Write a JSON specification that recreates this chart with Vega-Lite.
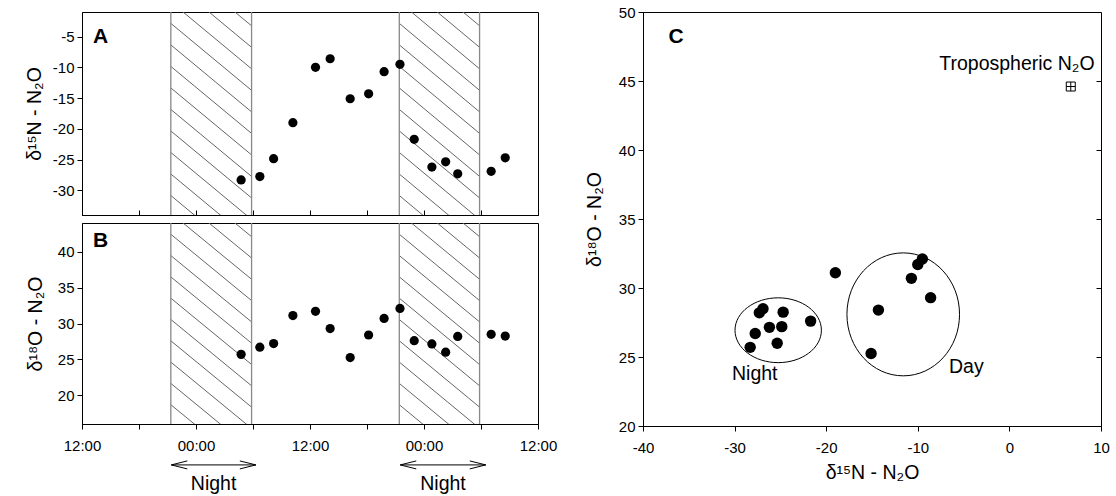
{
  "$schema": "https://vega.github.io/schema/vega-lite/v6.json",
  "background": "white",
  "padding": {"left": 23, "top": 4, "right": 2, "bottom": 0},
  "datasets": {
    "samples": [
      {"hour": 16.75, "d15N": -28.3, "d18O": 25.7},
      {"hour": 18.72, "d15N": -27.75, "d18O": 26.7},
      {"hour": 20.17, "d15N": -24.85, "d18O": 27.2},
      {"hour": 22.2, "d15N": -19.0, "d18O": 31.1},
      {"hour": 24.58, "d15N": -10.0, "d18O": 31.7},
      {"hour": 26.12, "d15N": -8.6, "d18O": 29.3},
      {"hour": 28.23, "d15N": -15.1, "d18O": 25.25},
      {"hour": 30.17, "d15N": -14.3, "d18O": 28.4},
      {"hour": 31.8, "d15N": -10.7, "d18O": 30.7},
      {"hour": 33.47, "d15N": -9.5, "d18O": 32.1},
      {"hour": 34.97, "d15N": -21.7, "d18O": 27.6},
      {"hour": 36.83, "d15N": -26.2, "d18O": 27.15},
      {"hour": 38.28, "d15N": -25.35, "d18O": 26.0},
      {"hour": 39.55, "d15N": -27.3, "d18O": 28.2},
      {"hour": 43.07, "d15N": -26.9, "d18O": 28.5},
      {"hour": 44.55, "d15N": -24.7, "d18O": 28.25}
    ],
    "nights": [
      {"start": 9.35, "end": 17.85, "a1": 9.4, "a2": 18.3, "mid": 13.85, "label": "Night"},
      {"start": 33.4, "end": 41.85, "a1": 33.5, "a2": 42.5, "mid": 38.0, "label": "Night"}
    ],
    "hatch": [
      {"s": 9.35, "e": 17.85, "f1": 1.262, "f2": 0.932},
      {"s": 9.35, "e": 17.85, "f1": 1.156, "f2": 0.826},
      {"s": 9.35, "e": 17.85, "f1": 1.05, "f2": 0.72},
      {"s": 9.35, "e": 17.85, "f1": 0.944, "f2": 0.614},
      {"s": 9.35, "e": 17.85, "f1": 0.838, "f2": 0.508},
      {"s": 9.35, "e": 17.85, "f1": 0.732, "f2": 0.402},
      {"s": 9.35, "e": 17.85, "f1": 0.626, "f2": 0.296},
      {"s": 9.35, "e": 17.85, "f1": 0.52, "f2": 0.19},
      {"s": 9.35, "e": 17.85, "f1": 0.414, "f2": 0.084},
      {"s": 9.35, "e": 17.85, "f1": 0.308, "f2": -0.022},
      {"s": 9.35, "e": 17.85, "f1": 0.202, "f2": -0.128},
      {"s": 9.35, "e": 17.85, "f1": 0.096, "f2": -0.234},
      {"s": 33.4, "e": 41.85, "f1": 1.262, "f2": 0.932},
      {"s": 33.4, "e": 41.85, "f1": 1.156, "f2": 0.826},
      {"s": 33.4, "e": 41.85, "f1": 1.05, "f2": 0.72},
      {"s": 33.4, "e": 41.85, "f1": 0.944, "f2": 0.614},
      {"s": 33.4, "e": 41.85, "f1": 0.838, "f2": 0.508},
      {"s": 33.4, "e": 41.85, "f1": 0.732, "f2": 0.402},
      {"s": 33.4, "e": 41.85, "f1": 0.626, "f2": 0.296},
      {"s": 33.4, "e": 41.85, "f1": 0.52, "f2": 0.19},
      {"s": 33.4, "e": 41.85, "f1": 0.414, "f2": 0.084},
      {"s": 33.4, "e": 41.85, "f1": 0.308, "f2": -0.022},
      {"s": 33.4, "e": 41.85, "f1": 0.202, "f2": -0.128},
      {"s": 33.4, "e": 41.85, "f1": 0.096, "f2": -0.234}
    ],
    "clusters": [
      {"cluster": "Night", "cx": -25.24, "cy": 26.94, "lx": -27.8, "ly": 23.8},
      {"cluster": "Day", "cx": -11.59, "cy": 28.09, "lx": -4.7, "ly": 24.3}
    ]
  },
  "spacing": 25,
  "hconcat": [
    {
      "spacing": 8,
      "bounds": "flush",
      "vconcat": [
        {
          "width": 456,
          "height": 203,
          "resolve": {"scale": {"y": "independent"}},
          "layer": [
            {
              "data": {"name": "hatch"},
              "mark": {"type": "rule", "clip": true, "color": "#666666", "strokeWidth": 1},
              "encoding": {
                "x": {"field": "s", "type": "quantitative", "scale": {"domain": [0, 48], "nice": false, "zero": false}, "axis": {"title": null, "values": [0, 3, 6, 9, 12, 15, 18, 21, 24, 27, 30, 33, 36, 39, 42, 45, 48], "labels": false, "tickSize": -5}},
                "x2": {"field": "e"},
                "y": {"field": "f1", "type": "quantitative", "scale": {"domain": [0, 1], "nice": false, "zero": false}, "axis": null},
                "y2": {"field": "f2"}
              }
            },
            {
              "data": {"name": "nights"},
              "mark": {"type": "rule", "color": "#888888", "strokeWidth": 1.3},
              "encoding": {"x": {"field": "start", "type": "quantitative", "scale": {"domain": [0, 48], "nice": false, "zero": false}}}
            },
            {
              "data": {"name": "nights"},
              "mark": {"type": "rule", "color": "#888888", "strokeWidth": 1.3},
              "encoding": {"x": {"field": "end", "type": "quantitative", "scale": {"domain": [0, 48], "nice": false, "zero": false}}}
            },
            {
              "data": {"name": "samples"},
              "mark": {"type": "circle", "size": 85, "color": "black", "opacity": 1},
              "encoding": {
                "x": {"field": "hour", "type": "quantitative", "scale": {"domain": [0, 48], "nice": false, "zero": false}},
                "y": {"field": "d15N", "type": "quantitative", "scale": {"domain": [-34, -1], "nice": false, "zero": false}, "axis": {"values": [-30, -25, -20, -15, -10, -5], "labelExpr": "'' + datum.value", "title": "δ¹⁵N - N₂O", "titlePadding": 8}}
              }
            },
            {
              "data": {"values": [{"label": "A", "hour": 1.95, "v": -5}]},
              "mark": {"type": "text", "fontSize": 21, "fontWeight": "bold", "align": "center", "baseline": "middle"},
              "encoding": {
                "x": {"field": "hour", "type": "quantitative", "scale": {"domain": [0, 48], "nice": false, "zero": false}},
                "y": {"field": "v", "type": "quantitative", "scale": {"domain": [-34, -1], "nice": false, "zero": false}, "axis": null},
                "text": {"field": "label"}
              }
            }
          ]
        },
        {
          "width": 456,
          "height": 201,
          "resolve": {"scale": {"y": "independent"}},
          "layer": [
            {
              "data": {"name": "hatch"},
              "mark": {"type": "rule", "clip": true, "color": "#666666", "strokeWidth": 1},
              "encoding": {
                "x": {"field": "s", "type": "quantitative", "scale": {"domain": [0, 48], "nice": false, "zero": false}, "axis": {"title": null, "values": [0, 3, 6, 9, 12, 15, 18, 21, 24, 27, 30, 33, 36, 39, 42, 45, 48], "labelExpr": "datum.value % 24 === 0 ? '12:00' : (datum.value % 12 === 0 ? '00:00' : '')", "labelPadding": 9, "tickSize": 5}},
                "x2": {"field": "e"},
                "y": {"field": "f1", "type": "quantitative", "scale": {"domain": [0, 1], "nice": false, "zero": false}, "axis": null},
                "y2": {"field": "f2"}
              }
            },
            {
              "data": {"name": "nights"},
              "mark": {"type": "rule", "color": "#888888", "strokeWidth": 1.3},
              "encoding": {"x": {"field": "start", "type": "quantitative", "scale": {"domain": [0, 48], "nice": false, "zero": false}}}
            },
            {
              "data": {"name": "nights"},
              "mark": {"type": "rule", "color": "#888888", "strokeWidth": 1.3},
              "encoding": {"x": {"field": "end", "type": "quantitative", "scale": {"domain": [0, 48], "nice": false, "zero": false}}}
            },
            {
              "data": {"name": "samples"},
              "mark": {"type": "circle", "size": 85, "color": "black", "opacity": 1},
              "encoding": {
                "x": {"field": "hour", "type": "quantitative", "scale": {"domain": [0, 48], "nice": false, "zero": false}},
                "y": {"field": "d18O", "type": "quantitative", "scale": {"domain": [16, 44], "nice": false, "zero": false}, "axis": {"values": [20, 25, 30, 35, 40], "title": "δ¹⁸O - N₂O", "titlePadding": 12}}
              }
            },
            {
              "data": {"name": "nights"},
              "mark": {"type": "rule", "color": "black", "strokeWidth": 1},
              "encoding": {
                "x": {"field": "a1", "type": "quantitative", "scale": {"domain": [0, 48], "nice": false, "zero": false}},
                "x2": {"field": "a2"},
                "y": {"datum": 10.3, "type": "quantitative", "scale": {"domain": [16, 44], "nice": false, "zero": false}, "axis": null}
              }
            },
            {
              "data": {"name": "nights"},
              "mark": {"type": "point", "shape": "M2,-0.5L0,0L2,0.5", "size": 256, "filled": false, "color": "black", "strokeWidth": 1, "opacity": 1},
              "encoding": {
                "x": {"field": "a1", "type": "quantitative", "scale": {"domain": [0, 48], "nice": false, "zero": false}},
                "y": {"datum": 10.3, "type": "quantitative", "scale": {"domain": [16, 44], "nice": false, "zero": false}, "axis": null}
              }
            },
            {
              "data": {"name": "nights"},
              "mark": {"type": "point", "shape": "M-2,-0.5L0,0L-2,0.5", "size": 256, "filled": false, "color": "black", "strokeWidth": 1, "opacity": 1},
              "encoding": {
                "x": {"field": "a2", "type": "quantitative", "scale": {"domain": [0, 48], "nice": false, "zero": false}},
                "y": {"datum": 10.3, "type": "quantitative", "scale": {"domain": [16, 44], "nice": false, "zero": false}, "axis": null}
              }
            },
            {
              "data": {"name": "nights"},
              "mark": {"type": "text", "fontSize": 19.5, "align": "center", "baseline": "middle"},
              "encoding": {
                "x": {"field": "mid", "type": "quantitative", "scale": {"domain": [0, 48], "nice": false, "zero": false}},
                "y": {"datum": 7.65, "type": "quantitative", "scale": {"domain": [16, 44], "nice": false, "zero": false}, "axis": null},
                "text": {"field": "label"}
              }
            },
            {
              "data": {"values": [{"label": "B", "hour": 1.95, "v": 41.5}]},
              "mark": {"type": "text", "fontSize": 21, "fontWeight": "bold", "align": "center", "baseline": "middle"},
              "encoding": {
                "x": {"field": "hour", "type": "quantitative", "scale": {"domain": [0, 48], "nice": false, "zero": false}},
                "y": {"field": "v", "type": "quantitative", "scale": {"domain": [16, 44], "nice": false, "zero": false}, "axis": null},
                "text": {"field": "label"}
              }
            }
          ]
        }
      ]
    },
    {
      "width": 458,
      "height": 414,
      "resolve": {"axis": {"y": "independent"}},
      "layer": [
        {
          "data": {"name": "clusters"},
          "transform": [{"filter": "datum.cluster === 'Night'"}],
          "mark": {"type": "point", "shape": "M1,0C1,0.414 0.552,0.75 0,0.75C-0.552,0.75 -1,0.414 -1,0C-1,-0.414 -0.552,-0.75 0,-0.75C0.552,-0.75 1,-0.414 1,0Z", "size": 7465, "filled": false, "color": "black", "strokeWidth": 1, "opacity": 1},
          "encoding": {
            "x": {"field": "cx", "type": "quantitative", "scale": {"domain": [-40, 10], "nice": false, "zero": false}},
            "y": {"field": "cy", "type": "quantitative", "scale": {"domain": [20, 50], "nice": false, "zero": false}, "axis": null}
          }
        },
        {
          "data": {"name": "clusters"},
          "transform": [{"filter": "datum.cluster === 'Day'"}],
          "mark": {"type": "point", "shape": "M1,0C1,0.603 0.552,1.092 0,1.092C-0.552,1.092 -1,0.603 -1,0C-1,-0.603 -0.552,-1.092 0,-1.092C0.552,-1.092 1,-0.603 1,0Z", "size": 12679, "filled": false, "color": "black", "strokeWidth": 1, "opacity": 1},
          "encoding": {
            "x": {"field": "cx", "type": "quantitative", "scale": {"domain": [-40, 10], "nice": false, "zero": false}},
            "y": {"field": "cy", "type": "quantitative", "scale": {"domain": [20, 50], "nice": false, "zero": false}, "axis": null}
          }
        },
        {
          "data": {"name": "samples"},
          "mark": {"type": "circle", "size": 130, "color": "black", "opacity": 1},
          "encoding": {
            "x": {"field": "d15N", "type": "quantitative", "scale": {"domain": [-40, 10], "nice": false, "zero": false}, "axis": {"values": [-40, -30, -20, -10, 0, 10], "labelExpr": "'' + datum.value", "title": "δ¹⁵N - N₂O", "labelPadding": 9, "titlePadding": 8}},
            "y": {"field": "d18O", "type": "quantitative", "scale": {"domain": [20, 50], "nice": false, "zero": false}, "axis": {"values": [20, 25, 30, 35, 40, 45, 50], "title": "δ¹⁸O - N₂O", "titlePadding": 14}}
          }
        },
        {
          "data": {"values": [{"name": "Tropospheric N₂O", "d15N": 6.7, "d18O": 44.6}]},
          "mark": {"type": "point", "shape": "M-1,-1L1,-1L1,1L-1,1ZM-1,0L1,0M0,-1L0,1", "size": 81, "filled": false, "color": "black", "strokeWidth": 1, "opacity": 1},
          "encoding": {
            "x": {"field": "d15N", "type": "quantitative", "scale": {"domain": [-40, 10], "nice": false, "zero": false}},
            "y": {"field": "d18O", "type": "quantitative", "scale": {"domain": [20, 50], "nice": false, "zero": false}, "axis": {"orient": "right", "values": [25, 30, 35, 40, 45], "labels": false, "title": null, "tickSize": -5, "domain": false}}
          }
        },
        {
          "data": {"name": "clusters"},
          "mark": {"type": "text", "fontSize": 19.5, "align": "center", "baseline": "middle"},
          "encoding": {
            "x": {"field": "lx", "type": "quantitative", "scale": {"domain": [-40, 10], "nice": false, "zero": false}},
            "y": {"field": "ly", "type": "quantitative", "scale": {"domain": [20, 50], "nice": false, "zero": false}, "axis": null},
            "text": {"field": "cluster"}
          }
        },
        {
          "data": {"values": [{"label": "Tropospheric N₂O", "x": 9.3, "y": 46.25}]},
          "mark": {"type": "text", "fontSize": 19.5, "align": "right", "baseline": "middle"},
          "encoding": {
            "x": {"field": "x", "type": "quantitative", "scale": {"domain": [-40, 10], "nice": false, "zero": false}},
            "y": {"field": "y", "type": "quantitative", "scale": {"domain": [20, 50], "nice": false, "zero": false}, "axis": null},
            "text": {"field": "label"}
          }
        },
        {
          "data": {"values": [{"label": "C", "x": -36.4, "y": 48.2}]},
          "mark": {"type": "text", "fontSize": 21, "fontWeight": "bold", "align": "center", "baseline": "middle"},
          "encoding": {
            "x": {"field": "x", "type": "quantitative", "scale": {"domain": [-40, 10], "nice": false, "zero": false}},
            "y": {"field": "y", "type": "quantitative", "scale": {"domain": [20, 50], "nice": false, "zero": false}, "axis": null},
            "text": {"field": "label"}
          }
        }
      ]
    }
  ],
  "config": {
    "font": "Liberation Sans",
    "view": {"stroke": "black", "strokeWidth": 1},
    "axis": {
      "domainColor": "black",
      "tickColor": "black",
      "labelColor": "black",
      "titleColor": "black",
      "labelFont": "Liberation Sans",
      "titleFont": "Liberation Sans",
      "labelFontSize": 15,
      "titleFontSize": 19.5,
      "titleFontWeight": "normal",
      "grid": false,
      "tickSize": 5,
      "labelPadding": 3,
      "labelFlush": false,
      "labelOverlap": false
    },
    "text": {"font": "Liberation Sans", "color": "black"}
  }
}
